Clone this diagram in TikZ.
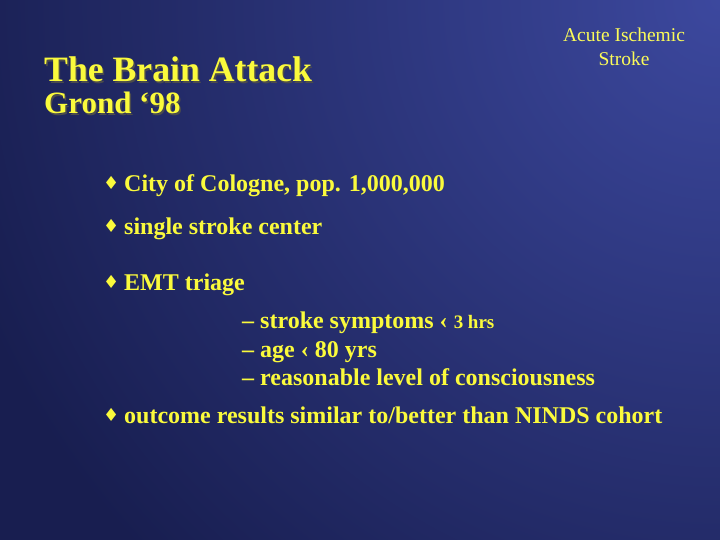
\documentclass[tikz,border=0pt]{standalone}
\usepackage{fontspec}
\setmainfont{Liberation Serif}
\newfontfamily\symf{DejaVu Sans}
\definecolor{txt}{RGB}{250,250,60}
\definecolor{bgl}{RGB}{60,72,158}
\definecolor{bgd}{RGB}{24,30,80}
\begin{document}
\begin{tikzpicture}[x=1pt,y=-1pt,
  txtb/.style={anchor=base west,inner sep=0,text=txt,font=\bfseries\fontsize{24}{28}\selectfont},
  bul/.style={anchor=base west,inner sep=0,text=txt,font=\symf\fontsize{18}{20}\selectfont}]
\useasboundingbox (0,0) rectangle (720,540);
\fill[bgd] (0,0) rectangle (720,540);
\begin{scope}
\clip (0,0) rectangle (720,540);
\shade[inner color=bgl,outer color=bgd] (720,0) circle (800);
\end{scope}
\node[txtb,text=black!70,font=\bfseries\fontsize{35.7}{38}\selectfont] (tsh) at (45.5,83.5) {The Brain Attack};
\node[txtb,font=\bfseries\fontsize{35.7}{38}\selectfont] (t1) at (44,82) {The Brain Attack};
\node[txtb,text=black!70,font=\bfseries\fontsize{31}{34}\selectfont] (gsh) at (45.5,115.5) {Grond ‘98};
\node[txtb,font=\bfseries\fontsize{31}{34}\selectfont] (t2) at (44,114) {Grond ‘98};
\node[anchor=base,inner sep=0,text=txt!85!white,font=\fontsize{19.5}{24}\selectfont,align=center] (ais) at (624,66) {Acute Ischemic\\Stroke};
\foreach \y/\t [count=\i] in {192/{City of Cologne, pop. 1,000,000},235/{single stroke center},290/{EMT triage},423/{outcome results similar to/better than NINDS cohort}}{
  \node[bul] (b\i) at (103,\y-2) {♦};
  \node[txtb] (l\i) at (124,\y) {\t};
}
\node[txtb] (s1) at (242,328) {– stroke symptoms ‹ {\fontsize{19}{22}\selectfont 3 hrs}};
\node[txtb] (s2) at (242,357) {– age ‹ 80 yrs};
\node[txtb] (s3) at (242,385) {– reasonable level of consciousness};
\end{tikzpicture}
\end{document}
